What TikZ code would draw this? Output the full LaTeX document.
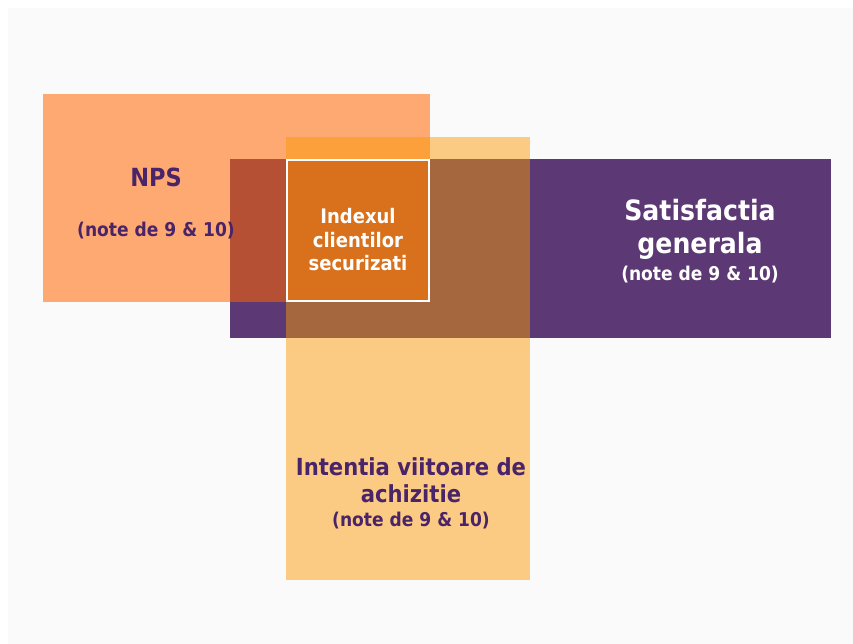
\documentclass[tikz,border=0pt]{standalone}
\usepackage{fontspec}
\setmainfont{DejaVu Sans Condensed}
\usetikzlibrary{positioning}

\definecolor{npsorange}{RGB}{255,169,114}
\definecolor{buyyellow}{RGB}{252,203,131}
\definecolor{satpurple}{RGB}{92,57,116}
\definecolor{npsbuy}{RGB}{252,160,60}
\definecolor{npssat}{RGB}{181,80,53}
\definecolor{buysat}{RGB}{165,103,62}
\definecolor{core}{RGB}{217,113,28}
\definecolor{darktext}{RGB}{74,36,104}
\definecolor{pagegrey}{RGB}{250,250,250}

\begin{document}
\begin{tikzpicture}[
  x=1pt, y=-1pt,
  title/.style = {font=\bfseries\fontsize{23.5}{27}\selectfont, align=center, inner sep=0pt},
  note/.style  = {font=\bfseries\fontsize{19}{22}\selectfont, align=center, inner sep=0pt},
  dark/.style  = {text=darktext},
  light/.style = {text=white}
]

  \useasboundingbox (0,0) rectangle (853,644);
  \fill[pagegrey] (8,8) rectangle (853,644);

  % the three sets
  \fill[npsorange] (43,94) rectangle (430,302);
  \fill[buyyellow] (286,137) rectangle (530,580);
  \fill[npsbuy]    (286,137) rectangle (430,159);
  \fill[satpurple] (230,159) rectangle (831,338);
  % overlaps
  \fill[npssat] (230,159) rectangle (286,302);
  \fill[buysat] (286,159) rectangle (530,338);
  \fill[core, draw=white, line width=2pt] (287,160) rectangle (429,301);

  \node[title, dark, font=\bfseries\fontsize{25}{27}\selectfont] (nps) at (156,177) {NPS};
  \node[note, dark]  (npsnote) at (156,231) {(note de 9 \& 10)};

  \node[note, light, font=\bfseries\fontsize{20}{23.5}\selectfont] (core)
    at (358,240) {Indexul\\clientilor\\securizati};

  \node[title, light, font=\bfseries\fontsize{28}{33}\selectfont] (sat)
    at (700,229) {Satisfactia\\generala};
  \node[note, light] (satnote) at (700,275) {(note de 9 \& 10)};

  \node[title, dark] (buy) at (411,480) {Intentia viitoare de\\achizitie};
  \node[note, dark]  (buynote) at (411,521) {(note de 9 \& 10)};

\end{tikzpicture}
\end{document}
